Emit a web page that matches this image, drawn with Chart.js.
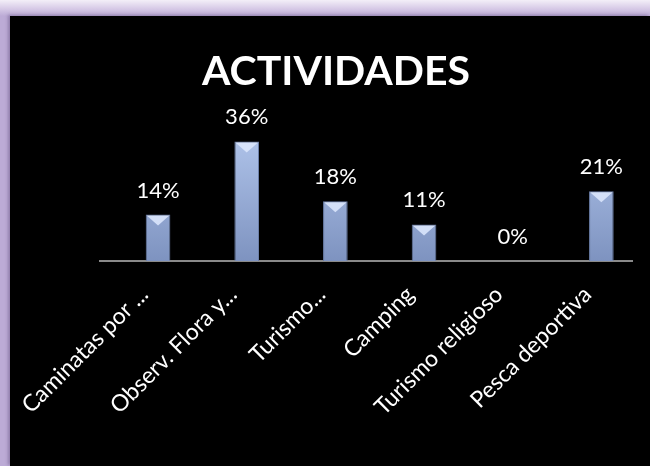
<!DOCTYPE html>
<html lang="es">
<head>
  <meta charset="UTF-8">
  <title>Actividades</title>
  <style>
    html, body {
      margin: 0;
      padding: 0;
    }
    body {
      width: 650px;
      height: 466px;
      overflow: hidden;
      position: relative;
      background: linear-gradient(to bottom, #f3eff8 0px, #d9cde8 8px, #bcabd6 16px, #bcabd6 100%);
    }
    #chartBox {
      position: absolute;
      left: 10px;
      top: 16px;
      width: 640px;
      height: 450px;
      background: #000;
      box-shadow: -2px -1px 3px rgba(90, 70, 120, 0.45);
    }
  </style>
</head>
<body>
  <div id="chartBox">
    <canvas id="actChart" width="640" height="450"></canvas>
  </div>

  <script src="https://cdn.jsdelivr.net/npm/chart.js"></script>
  <script>
    const categories = ['Caminatas por ...', 'Observ. Flora y...', 'Turismo...', 'Camping', 'Turismo religioso', 'Pesca deportiva'];
    // the sheet has an empty first series, so the visible bars sit right of centre
    const emptySeries = [null, null, null, null, null, null];
    const values = [0.14, 0.36, 0.18, 0.11, 0, 0.21];
    const valueLabels = ['14%', '36%', '18%', '11%', '0%', '21%'];

    const FONT = 'Lato, "Open Sans", sans-serif';

    // value labels above bars + bevel triangle on bar tops
    const barExtras = {
      id: 'barExtras',
      afterDatasetsDraw(chart) {
        const ctx = chart.ctx;
        const meta = chart.getDatasetMeta(1);
        meta.data.forEach((bar, i) => {
          const half = bar.width / 2;
          if (bar.base - bar.y > 2) {
            ctx.save();
            ctx.fillStyle = 'rgba(218, 230, 252, 0.9)';
            ctx.beginPath();
            ctx.moveTo(bar.x - half + 1, bar.y + 1);
            ctx.lineTo(bar.x + half - 1, bar.y + 1);
            ctx.lineTo(bar.x, bar.y + 11);
            ctx.closePath();
            ctx.fill();
            ctx.restore();
          }
          ctx.save();
          ctx.fillStyle = '#ffffff';
          ctx.font = '22px ' + FONT;
          ctx.textAlign = 'center';
          ctx.textBaseline = 'alphabetic';
          ctx.fillText(valueLabels[i], bar.x, bar.y - 17);
          ctx.restore();
        });
      }
    };

    function hiddenAxis(position, width) {
      return {
        type: 'linear',
        position: position,
        display: true,
        min: 0,
        max: 0.40,
        ticks: { display: false },
        grid: { display: false, drawTicks: false },
        border: { display: false },
        afterFit: function(s) { s.width = width; }
      };
    }

    function createChart() {
      const ctx = document.getElementById('actChart').getContext('2d');
      new Chart(ctx, {
        type: 'bar',
        data: {
          labels: categories,
          datasets: [{
            data: emptySeries,
            backgroundColor: 'rgba(0,0,0,0)',
            barPercentage: 0.9,
            categoryPercentage: 0.618
          }, {
            data: values,
            backgroundColor: function(c) {
              const area = c.chart.chartArea;
              if (!area) return '#93a8d4';
              const g = c.chart.ctx.createLinearGradient(0, area.top, 0, area.bottom);
              g.addColorStop(0, '#b2c6ec');
              g.addColorStop(1, '#7e93c0');
              return g;
            },
            borderColor: '#6a7da6',
            borderWidth: 1,
            barPercentage: 0.9,
            categoryPercentage: 0.618
          }]
        },
        options: {
          responsive: false,
          animation: false,
          layout: { padding: { left: 12, right: 0, top: 0, bottom: 0 } },
          plugins: {
            legend: { display: false },
            tooltip: { enabled: false },
            title: {
              display: true,
              text: 'ACTIVIDADES',
              color: '#ffffff',
              font: { family: FONT, size: 41, weight: 'bold' },
              padding: { top: 31, bottom: 32 }
            }
          },
          scales: {
            x: {
              grid: { display: false, drawTicks: false },
              border: { display: true, color: '#8a8a8a', width: 2 },
              ticks: {
                color: '#ffffff',
                font: { family: FONT, size: 23 },
                maxRotation: 45,
                minRotation: 45,
                autoSkip: false,
                padding: 20
              },
              afterFit: function(s) {
                s.height = 205;
                s.paddingLeft = 0;
                s.paddingRight = 0;
              }
            },
            y: hiddenAxis('left', 78),
            y2: hiddenAxis('right', 18)
          }
        },
        plugins: [barExtras]
      });
    }

    window.onload = function() { createChart(); };
  </script>
</body>
</html>
